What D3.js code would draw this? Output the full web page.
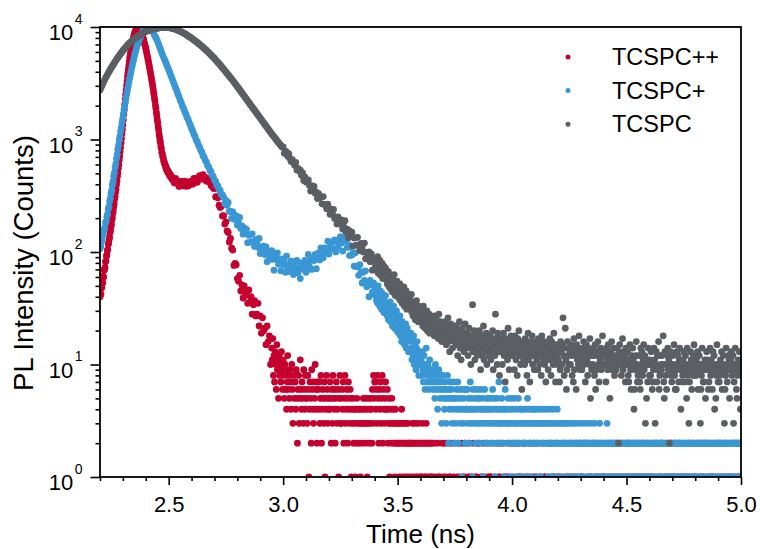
<!DOCTYPE html>
<html>
<head>
<meta charset="utf-8">
<script src="https://cdn.jsdelivr.net/npm/d3@7/dist/d3.min.js"></script>
<style>
html,body{margin:0;padding:0;background:#fff;}
svg{display:block;}
</style>
</head>
<body>
<svg id="chart" width="760" height="549"></svg>
<script>
// ---------------- data ----------------
const seriesNames = ["TCSPC++", "TCSPC+", "TCSPC"];
const xDomain = [2.2, 5.0];
const yDomain = [1, 10000];
const xMajorTicks = [2.5, 3.0, 3.5, 4.0, 4.5, 5.0];
const xMinorTicks = [2.2, 2.3, 2.4, 2.6, 2.7, 2.8, 2.9, 3.1, 3.2, 3.3, 3.4, 3.6, 3.7, 3.8, 3.9, 4.1, 4.2, 4.3, 4.4, 4.6, 4.7, 4.8, 4.9];
const yMajorExponents = [0, 1, 2, 3, 4];
const yMinorTicks = [2,3,4,5,6,7,8,9,20,30,40,50,60,70,80,90,200,300,400,500,600,700,800,900,2000,3000,4000,5000,6000,7000,8000,9000];

// TCSPC++ : counts per time bin (start time in ns, bin width in ns)
const redRiseStart = 2.200, redRiseStep = 0.002;
const redRise = [
40,43,42,49,48,55,53,61,60,69,
70,73,82,83,92,94,103,105,117,120,
129,135,149,155,168,176,193,202,221,233,
252,268,294,311,340,361,397,426,468,503,
552,597,658,711,783,848,936,1020,1126,1227,
1352,1496,1671,1850,2066,2287,2517,2750,3026,3305,
3637,3920,4252,4586,4972,5363,5682,5990,6347,6690,
7088,7370,7700,8008,8365,8701,8922,9111,9342,9541,
9781,9855,9962,9945,9871,9764,9602,9411,9255,9070,
8921,8662,8441,8196,7988,7754,7490,7203,6958,6691,
6465,6158,5896,5615,5378,5121,4883,4626,4414,4180,
3989,3759,3573,3365,3200,3012,2839,2647,2497,2325,
2196,2024,1896,1746,1637,1506,1414,1298,1221,1119,
1055,978,937,867,832,768,753,707,693,650,
639,606,605,573,573,542,548,522,528,503,
509,486,496,473,482,460,469,447,457,435];
const redBodyStart = 2.520, redBodyStep = 0.005;
const redBody = [
443,410,450,413,429,383,409,425,388,396,
426,384,406,387,423,401,423,401,450,423,
450,417,449,476,446,460,487,442,461,426,
454,421,423,391,411,368,366,309,311,303,
261,249,255,209,210,177,185,154,149,123,
132,108,104,76,79,77,58,55,62,45,
51,39,50,41,44,35,46,36,40,28,
34,37,27,28,35,22,27,19,26,20,
21,15,22,16,18,10];
const redTail1Start = 2.950, redTail1Step = 0.0025;
const redTail1 = [
14,11,17,8,12,7,13,10,6,15,9,11,5,12,8,10,7,13,9,6,11,
8,5,10,6,9,4,7,12,6,8,5,9,7,4,10,6,3,8,5,7,
7,4,9,5,2,6,8,3,5,11,6,4,7,5,3,9,6,4,8,5,
5,3,8,6,1,4,7,5,2,9,6,4,3,7,5,10,4,6,2,7,
6,4,7,3,5,8,2,4,6,5,3,7,1,5,4,8,6,3,5,4,
4,7,5,2,6,3,8,5,4,6,2,5,7,3,4,6,1,5,8,3,
5,3,6,4,7,2,5,8,3,4,6,5,2,7,4,3,6,5,1,4,
3,5,2,4,3,1,4,2,5,3,4,2,3,4,1,3,2,4,3,5,
3,4,2,5,3,4,1,3,5,2,4,3,5,4,2,6,3,8,5,7,
7,4,6,3,8,5,2,6,4,7,3,5,8,2,6,4,3,5,7,4,
4,6,2,3,5,1,4,3,2,5,3,4,2,3,1,4,2,3,2,3,
2,3,1,2,3,2,4,1,3,2,2,3,1,2,3,2,1,3,2,2,
2,1,2,0,2,3,1,2,2,0,3,1,2,2,1,3,2,0,2,1,
1,2,3,2,0,1,2,2,1,3,0,2,1,2,2,0,1,2,1,2];
const redTail2Start = 3.655, redTail2Step = 0.005;
const redTail2 = [
1,2,0,1,2,1,1,0,2,1, 2,1,0,2,1,1,2,0,1,2, 0,1,2,1,0,2,1,1,2,0,
1,2,1,0,1,2,0,1,1,2, 2,0,1,1,2,1,0,2,1,1, 1,1,2,0,1,0,2,1,2,1,
0,2,1,1,0,1,2,1,0,2, 1,0,2,1,2,1,1,0,1,2, 2,1,1,0,1,2,0,1,2,1,
1,2,0,1,1,0,2,1,1,0, 0,1,2,2,1,1,0,1,2,1, 1,0,1,2,0,2,1,1,0,1,
2,1,0,1,1,2,1,0,2,1, 1,1,2,0,2,1,0,1,1,2, 0,2,1,1,0,1,2,1,0,1,
1,0,1,2,1,0,1,2,1,1, 2,1,0,1,2,1,1,0,1,2, 1,2,1,0,1,1,2,1,0,1,
0,1,2,1,1,0,1,2,1,0, 1,1,0,2,1,2,0,1,1,2, 2,0,1,1,0,1,2,1,2,1,
1,2,1,0,1,2,1,0,1,1, 0,1,1,2,1,0,2,1,1,0, 1,2,0,1,2,1,1,2,0,1,
2,1,1,0,1,1,0,2,1,2, 1,0,2,1,1,2,1,0,1,1, 0,1,1,2,0,1,2,1,1,2];

// TCSPC+
const blueRiseStart = 2.200, blueRiseStep = 0.003;
const blueRise = [
107,112,124,127,140,144,158,164,181,188,
207,217,241,253,281,299,331,354,394,424,
472,508,564,608,677,737,821,893,986,1070,
1179,1281,1410,1534,1679,1816,1981,2144,2337,2531,
2758,2968,3210,3455,3719,3977,4270,4556,4857,5160,
5499,5804,6142,6482,6796,7075,7383,7670,7947,8218,
8515,8746,8999,9243,9466,9590,9731,9791,9867,9927];
const blueBodyStart = 2.410, blueBodyStep = 0.005;
const blueBody = [
9990,9780,9541,9340,9113,8718,8310,7950,7579,7127,
6676,6282,5881,5566,5241,4962,4670,4423,4162,3927,
3680,3474,3254,3074,2877,2720,2544,2406,2249,2129,
1989,1890,1772,1685,1579,1502,1407,1340,1253,1195,
1116,1065,994,954,892,857,801,770,718,695,
650,630,587,571,531,517,480,468,434,425,
392,386,357,353,325,322,
307,269,288,260,276,229,231,199,227,213,
194,210,174,181,203,162,171,144,164,150,
159,121,141,142,123,145,123,112,129,118,
110,132,97,111,104,113,95,111,82,102,
86,95,103,86,69,93,86,98,78,86,
68,87,77,83,66,92,72,76,67,83,
75,63,79,70,84,65,72,58,80,75,
70,84,66,76,95,74,84,70,89,84,
95,71,92,98,85,109,94,89,109,104,
100,125,96,113,109,123,107,128,100,124,
110,124,137,120,102,132,126,137,110,116,
93,110,94,97,75,98,74,75,62,77,
67,53,66,56,68,49,53,40,56,51,
44,53];
const blueTailStart = 3.400, blueTailStep = 0.0025;
const blueTail = [
46,
41,48,37,44,35,50,39,42,33,45,38,31,43,36,40,29,37,34,41,30,
33,27,35,25,30,28,36,24,29,31,22,27,33,25,21,28,26,30,20,24,
25,19,23,27,18,21,16,24,20,17,22,15,19,23,14,18,21,16,13,19,
17,13,19,14,11,16,12,18,10,15,13,9,14,16,11,12,8,13,10,12,
11,8,13,9,7,12,10,6,9,14,8,7,10,9,6,11,8,7,9,8,
7,9,6,8,5,10,7,6,8,4,7,9,6,5,8,7,3,6,8,5,
6,4,7,5,3,6,8,5,2,6,4,7,5,6,3,5,4,7,2,5,
5,3,6,4,7,2,5,4,6,3,5,1,4,6,3,5,4,2,6,4,
4,6,3,5,2,4,7,3,5,4,1,6,3,4,5,2,4,6,3,5,
3,5,4,2,6,3,4,5,1,4,3,6,2,4,5,3,4,2,5,3,
4,2,5,3,4,6,2,3,5,1,4,3,2,5,4,3,7,2,4,3,
3,5,2,4,3,1,4,6,3,2,4,3,5,2,3,4,1,3,5,2,
4,2,3,5,2,3,1,4,3,2,5,3,2,4,1,3,2,4,3,2,
3,2,4,1,3,2,5,3,2,4,2,3,1,3,4,2,3,2,4,3,
2,4,3,1,2,3,4,2,3,1,3,2,4,3,2,0,3,2,4,2,
3,2,1,3,4,2,3,2,1,3,2,4,2,3,1,2,3,2,4,2,
2,3,1,2,3,2,0,3,2,1,3,2,2,3,1,2,3,2,1,2,
3,2,1,2,2,3,1,2,0,2,3,2,1,2,2,1,3,2,2,1,
2,1,2,3,2,0,2,1,2,2,3,1,2,2,1,2,0,3,2,1,
2,2,1,3,2,1,2,0,2,2,1,2,3,1,2,2,0,2,1,2,
1,2,2,0,2,3,1,2,2,1,0,2,2,1,2,2,1,2,0,2,
2,1,2,2,0,1,2,2,1,2,2,0,1,2,2,1,2,1,2,2,
1,2,2,1,0,2,2,1,2,2,1,2,0,2,1,2,2,1,2,1,
2,2,1,2,1,0,2,2,1,2,2,2,1,0,2,1,2,2,1,2,
2,1,0,2,2,1,2,1,2,2,0,1,2,2,2,1,0,2,1,2,
1,2,2,1,2,0,2,1,2,2,1,2,2,0,1,2,1,2,2,1,
2,0,1,2,2,1,2,2,1,0,2,2,1,2,1,2,2,0,2,1,
2,2,1,2,0,2,1,2,2,1,2,1,0,2,2,1,2,2,1,2,
1,2,2,0,2,1,2,2,1,2,0,2,1,2,2,1,2,0,2,2,
2,1,2,2,1,0,2,2,1,2,2,1,2,0,1,2,2,1,2,2,
0,2,1,2,2,1,2,0,2,1,2,2,1,2,2,0,1,2,2,1,
2,2,1,0,2,1,2,2,1,2,2,0,2,1,2,2,1,2,0,2];

// TCSPC
const grayHeadStart = 2.200, grayHeadStep = 0.005;
const grayHead = [
2754,2897,3048,3206,3373,3548,3698,3855,4018,4188,
4365,4529,4699,4875,5058,5248,5420,5598,5781,5970,
6166,6339,6516,6699,6887,7079,7228,7379,7534,7691,
7852,7980,8110,8241,8375,8511,8630,8750,8872,8995,
9120,9197,9273,9351,9428,9506,9559,9612,9665,9719,
9772,9804,9835,9867,9899,9931,9922,9913,9904,9895,
9886,9831,9777,9723,9670,9616,9528,9441,9354,9268,
9183,9066,8950,8835,8723,8610,8472,8337,8204,8072,
7943,7805,7670,7537,7406,7278,7139,7002,6868,6737,
6607,6463,6321,6183,6048,5916,5776,5639,5506,5376,
5248,5110,4975,4844,4716,4592,4462,4337,4215,4097,
3981,3868,3757,3650,3545,3443,3340,3238,3140,3044,
2951,2858,2767,2679,2594,2512,2432,2355,2280,2208,
2138,2070,2004,1941,1879,1820,1762,1706,1652,1600,
1549,1500,1452,1406,1361,1318,1276,1236,1197,1159,
1122,1089,1057,1026,995,966,938,910,883,857,
861,754,786,772,709,745,677,638,663,624,
591,626,536,554,525,533,481,505,431,462,
418,428,437,391,348,388,365,382,333,340,
299,330,303,308,268,311,265,265,242,266,
245,216,239,218,239,199,204,177,205,192,
177,193,160,167,190,150,160,134,154,141,
150,113,133,134,115,135,114,103,119,109,
100,120,87,99,92,100,82,96,69,87];
const grayTailStart = 3.400, grayTailStep = 0.0025;
const grayTail = [
83,
74,86,69,80,91,65,77,71,84,62,73,68,79,58,70,75,61,66,72,57,
64,52,58,67,49,55,61,47,53,60,44,57,50,63,46,41,52,48,55,43,
48,39,44,52,37,41,46,35,43,38,49,33,40,36,45,31,39,42,34,37,
38,31,35,42,29,33,27,36,30,34,25,32,37,28,31,24,33,29,26,30,
31,25,28,22,33,26,29,21,27,24,30,20,26,23,28,19,25,22,27,24,
26,21,24,18,27,22,19,25,20,23,17,28,21,18,24,20,16,22,19,23,
21,17,24,19,15,22,18,26,16,20,13,19,23,17,21,14,18,22,16,19,
18,22,15,17,12,20,16,24,14,18,11,17,21,15,19,13,16,23,14,17,
15,19,12,17,21,14,16,10,18,15,34,13,17,20,11,16,14,19,12,15,
17,13,20,15,9,16,12,18,14,22,11,15,17,13,19,10,14,16,12,18,
14,18,11,16,13,20,9,15,17,12,28,14,16,10,19,13,15,8,17,14,
13,16,10,15,19,12,14,7,17,13,15,11,21,14,9,16,12,18,13,15,
12,16,14,9,18,13,11,15,8,17,13,20,12,14,10,16,6,13,15,11,
14,10,17,12,15,8,13,19,11,14,7,16,12,13,18,10,15,12,9,14,
13,16,11,14,9,17,12,10,15,13,8,18,12,14,11,16,10,13,7,15,
12,15,9,14,11,17,13,8,16,12,14,10,19,11,13,7,15,12,10,14,
11,14,7,9,16,13,10,15,26,12,8,14,21,11,6,9,16,12,10,14,
13,10,15,12,8,14,7,17,9,13,12,6,15,11,14,10,18,12,9,13,
12,9,14,11,16,10,13,7,12,15,11,8,14,12,10,17,5,13,9,12,
10,14,12,8,15,6,13,9,12,16,10,7,13,11,14,9,12,18,10,12,
13,10,12,7,14,11,9,15,12,10,5,13,11,16,9,12,10,14,8,11,
12,9,14,10,11,2,13,15,10,12,8,11,17,9,13,10,12,7,14,11,
10,13,8,7,11,15,9,6,12,10,14,11,4,6,9,12,16,10,7,8,
12,9,7,6,14,10,13,8,11,15,9,12,3,10,5,11,7,14,10,8,
11,8,13,10,6,7,9,14,11,3,10,13,7,12,9,16,6,8,12,10,
9,12,10,18,7,5,13,8,10,6,12,14,9,11,2,10,13,8,7,9,
12,10,15,8,6,9,6,13,10,12,7,11,14,9,4,10,7,8,11,13,
10,7,12,9,5,14,8,10,3,7,9,13,11,6,10,8,12,15,9,8,
8,11,10,13,6,9,12,10,3,6,8,14,10,7,7,9,11,5,10,13,
11,9,6,7,10,14,8,11,9,6,13,10,12,4,9,5,8,15,10,7,
10,7,8,11,9,13,6,10,12,9,3,6,8,14,10,7,12,9,11,5,
9,11,13,8,10,12,3,7,9,14,10,6,5,8,11,9,13,10,4,11];

// ---------------- rendering ----------------
const W = 760, H = 549;
const plot = {left: 100, right: 741, top: 27, bottom: 477};
const FONT = "'Liberation Sans', Arial, Helvetica, sans-serif";
const colors = ["#C5002F", "#3A97D5", "#5B5E63"];
const dotR = 3.4;

const x = d3.scaleLinear().domain(xDomain).range([plot.left, plot.right]);
const y = d3.scaleLog().domain(yDomain).range([plot.bottom, plot.top]);

const svg = d3.select("#chart");
svg.append("rect").attr("width", W).attr("height", H).attr("fill", "#fff");

svg.append("defs").append("clipPath").attr("id", "plotClip")
  .append("rect").attr("x", plot.left).attr("y", plot.top)
  .attr("width", plot.right - plot.left).attr("height", plot.bottom - plot.top);

function seg(start, step, counts) {
  return counts.map((c, i) => ({t: Math.round((start + i * step) * 100000) / 100000, c: c}));
}

const series = [
  {name: seriesNames[0], color: colors[0], points: [].concat(
    seg(redRiseStart, redRiseStep, redRise), seg(redBodyStart, redBodyStep, redBody),
    seg(redTail1Start, redTail1Step, redTail1), seg(redTail2Start, redTail2Step, redTail2))},
  {name: seriesNames[1], color: colors[1], points: [].concat(
    seg(blueRiseStart, blueRiseStep, blueRise), seg(blueBodyStart, blueBodyStep, blueBody),
    seg(blueTailStart, blueTailStep, blueTail))},
  {name: seriesNames[2], color: colors[2], points: [].concat(
    seg(grayHeadStart, grayHeadStep, grayHead), seg(grayTailStart, grayTailStep, grayTail))}
];

const dataG = svg.append("g").attr("clip-path", "url(#plotClip)");
series.forEach(s => {
  dataG.append("g").selectAll("circle")
    .data(s.points.filter(p => p.c > 0 && p.t <= xDomain[1] + 1e-9))
    .join("circle")
    .attr("cx", d => x(d.t))
    .attr("cy", d => y(d.c))
    .attr("r", dotR)
    .attr("fill", s.color);
});

// frame
svg.append("rect")
  .attr("x", plot.left).attr("y", plot.top)
  .attr("width", plot.right - plot.left).attr("height", plot.bottom - plot.top)
  .attr("fill", "none").attr("stroke", "#000").attr("stroke-width", 1.8);

function styleAxis(g) {
  g.select(".domain").remove();
  g.selectAll(".tick line").attr("stroke", "#000").attr("stroke-width", 1.6);
  g.selectAll("text").attr("font-family", FONT).attr("font-size", 22).attr("fill", "#000");
}

// x axis
svg.append("g").attr("transform", `translate(0,${plot.bottom})`)
  .call(d3.axisBottom(x).tickValues(xMinorTicks).tickSize(4).tickSizeOuter(0).tickFormat(""))
  .call(styleAxis);
svg.append("g").attr("transform", `translate(0,${plot.bottom})`)
  .call(d3.axisBottom(x).tickValues(xMajorTicks).tickSize(8).tickSizeOuter(0)
        .tickPadding(11).tickFormat(d3.format(".1f")))
  .call(styleAxis);

// y axis
svg.append("g").attr("transform", `translate(${plot.left},0)`)
  .call(d3.axisLeft(y).tickValues(yMinorTicks).tickSize(4.5).tickSizeOuter(0).tickFormat(""))
  .call(styleAxis);
svg.append("g").attr("transform", `translate(${plot.left},0)`)
  .call(d3.axisLeft(y).tickValues(yMajorExponents.map(e => Math.pow(10, e))).tickSize(9.5).tickSizeOuter(0).tickFormat(""))
  .call(styleAxis);

const yLab = svg.append("g").selectAll("text").data(yMajorExponents).join("text")
  .attr("x", 82.5)
  .attr("y", e => y(Math.pow(10, e)) + 13)
  .attr("text-anchor", "end")
  .attr("font-family", FONT)
  .attr("fill", "#000");
yLab.append("tspan").attr("font-size", 22).text("10");
yLab.append("tspan").attr("font-size", 14).attr("dx", 1.5).attr("dy", -16.5).text(e => e);

// axis titles
svg.append("text")
  .attr("x", (plot.left + plot.right) / 2).attr("y", 543)
  .attr("text-anchor", "middle").attr("font-family", FONT).attr("font-size", 26)
  .attr("fill", "#000").text("Time (ns)");
svg.append("text")
  .attr("transform", "translate(33,263) rotate(-90)")
  .attr("text-anchor", "middle").attr("font-family", FONT).attr("font-size", 27.5)
  .attr("fill", "#000").text("PL Intensity (Counts)");

// legend
const leg = svg.append("g").selectAll("g").data(series).join("g")
  .attr("transform", (d, i) => `translate(568,${57 + i * 33.6})`);
leg.append("circle").attr("r", 2.5).attr("fill", d => d.color);
leg.append("text").attr("x", 44).attr("y", 8).attr("font-family", FONT)
  .attr("font-size", 23.5).attr("fill", "#000").text(d => d.name);
</script>
</body>
</html>
